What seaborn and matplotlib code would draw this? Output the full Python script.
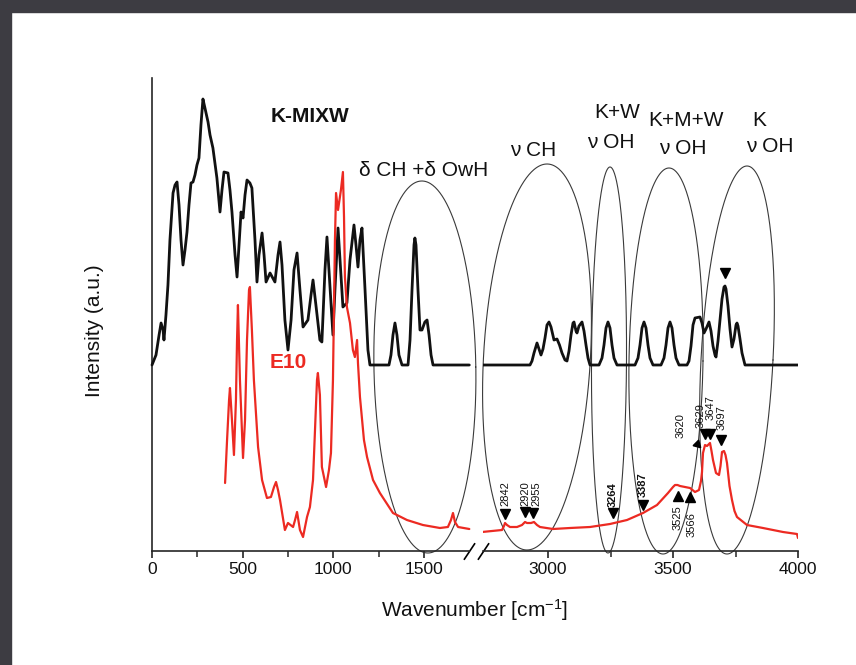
import numpy as np
import matplotlib
matplotlib.use("Agg")
import matplotlib.pyplot as plt
import seaborn as sns
from matplotlib.patches import Rectangle

# ---------------- data ----------------
# K-MIXW (black), low-wavenumber part
kmix_lo_wn = [0, 22, 39, 50, 61, 66, 77, 88, 99, 116, 127, 138, 149, 160, 171, 182, 193, 204, 215, 226,
              237, 248, 259, 270, 281, 292, 309, 320, 336, 358, 375, 386, 397, 419, 430, 441, 458, 469,
              480, 491, 502, 513, 524, 540, 551, 568, 579, 590, 607, 618, 629, 651, 678, 695, 706, 717,
              733, 750, 767, 783, 800, 816, 833, 860, 877, 888, 904, 926, 937, 954, 965, 976, 998, 1009,
              1026, 1037, 1053, 1075, 1092, 1114, 1125, 1136, 1147, 1158, 1175, 1191, 1202, 1307, 1318,
              1329, 1340, 1351, 1362, 1379, 1412, 1423, 1434, 1445, 1450, 1456, 1467, 1478, 1489, 1505,
              1517, 1528, 1539, 1550, 1750]
kmix_lo_int = [186, 196, 216, 228, 221, 211, 236, 266, 311, 358, 366, 369, 346, 311, 286, 301, 319, 346, 368, 369,
               376, 386, 393, 426, 452, 443, 429, 416, 403, 373, 339, 361, 379, 378, 361, 339, 296, 274,
               306, 339, 333, 356, 371, 368, 363, 311, 269, 296, 318, 296, 269, 278, 269, 296, 309, 286,
               231, 201, 231, 281, 298, 261, 224, 231, 256, 271, 246, 211, 209, 281, 314, 281, 216, 261,
               323, 291, 244, 248, 291, 326, 306, 284, 311, 323, 261, 201, 186, 186, 196,
               216, 228, 216, 196, 186, 186, 211, 261, 306, 313, 306, 261, 221, 221, 229,
               231, 216, 196, 186, 186]

# K-MIXW (black), high-wavenumber part
kmix_hi_wn = [2740, 2928, 2936, 2944, 2956, 2964, 2972, 2980, 2988, 2996, 3004, 3012, 3024, 3036, 3046, 3056,
              3068, 3076, 3084, 3092, 3100, 3104, 3112, 3116, 3124, 3136, 3144, 3152, 3160, 3168,
              3204, 3216, 3224, 3232, 3240, 3248, 3256, 3264, 3276,
              3348, 3360, 3368, 3376, 3384, 3392, 3400, 3408, 3420,
              3452, 3464, 3472, 3480, 3488, 3496, 3504, 3512, 3524,
              3556, 3564, 3572, 3580, 3588, 3608, 3616, 3624, 3632, 3644, 3652, 3660, 3668, 3672,
              3680, 3688, 3696, 3704, 3708, 3712, 3720, 3728, 3736, 3744, 3752, 3756, 3760, 3768,
              3776, 3788, 4000]
kmix_hi_int = [186, 186, 190, 198, 208, 202, 196, 202, 213, 226, 229, 224, 211, 212, 206, 198,
               191, 190, 200, 216, 228, 229, 220, 218, 225, 229, 220, 206, 193, 186,
               186, 193, 206, 223, 229, 223, 206, 193, 186,
               186, 193, 206, 223, 229, 223, 206, 193, 186,
               186, 193, 206, 223, 229, 223, 206, 193, 186,
               186, 190, 205, 226, 233, 234, 228, 218, 222, 229, 220, 205, 196, 194,
               210, 231, 252, 264, 265, 262, 245, 222, 204, 212, 226, 228, 225, 212,
               198, 186, 186]

# E10 (red), low-wavenumber part
e10_lo_wn = [403, 414, 425, 430, 441, 452, 463, 469, 474, 485, 502, 513, 524, 535, 540, 551, 562, 585, 607,
             634, 656, 673, 684, 695, 706, 733, 750, 778, 789, 800, 816, 833, 855, 871, 888, 899, 910,
             915, 926, 937, 960, 976, 987, 998, 1009, 1015, 1026, 1042, 1053, 1059, 1064, 1075, 1092,
             1108, 1119, 1131, 1136, 1147, 1169, 1186, 1219, 1257, 1329, 1406, 1494, 1588, 1632, 1649,
             1660, 1671, 1688, 1750]
e10_lo_int = [68, 111, 151, 163, 131, 96, 151, 211, 246, 171, 93, 131, 211, 261, 264, 221, 171, 104, 71,
              53, 54, 64, 69, 61, 51, 21, 28, 24, 31, 39, 21, 14, 34, 44, 71, 121, 171,
              178, 156, 84, 64, 81, 98, 171, 311, 358, 341, 361, 379, 334, 274, 244, 228,
              201, 194, 211, 188, 154, 111, 94, 71, 58, 38, 31, 26, 23, 24, 31,
              38, 29, 24, 22]

# E10 (red), high-wavenumber part
e10_hi_wn = [2736, 2816, 2824, 2828, 2836, 2848, 2876, 2896, 2908, 2916, 2924, 2932, 2944, 2956, 2968,
             3020, 3088, 3168, 3248, 3316, 3380, 3436, 3480, 3500, 3508, 3518, 3528, 3548, 3568, 3588,
             3604, 3612, 3616, 3620, 3628, 3636, 3648, 3654, 3660, 3672, 3684, 3690, 3696, 3704, 3710,
             3716, 3726, 3736, 3746, 3756, 3796, 3860, 3940, 3996, 4000]
e10_hi_int = [19, 21, 25, 28, 26, 24, 24, 26, 29, 28, 28, 28, 29, 26, 24,
              22, 23, 24, 27, 31, 38, 46, 58, 64, 66, 66, 65, 64, 63, 59,
              61, 70, 79, 98, 106, 105, 108, 100, 91, 78, 76, 85, 99, 100, 96,
              88, 65, 51, 40, 34, 26, 23, 19, 17, 13]

# ticks
lo_major = [0, 500, 1000, 1500]
lo_minor = [250, 750, 1250]
hi_major = [3000, 3500, 4000]
hi_minor = [3250, 3750]

# band-region ellipses: centre wn, centre int, half-width (wn), half-height (int), tilt (wn per int)
ell_lo = [(1505, 184, 281, 186, -0.089)]
ell_hi = [(2956, 194, 214, 193, 0.208),
          (3244, 191, 70, 193, 0.021),
          (3472, 190, 148, 193, 0.062),
          (3756, 191, 144, 194, 0.206)]

# peak markers (E10, high range)
pk_labels = ["2842", "2920", "2955", "3264", "3387", "3525", "3566", "3620", "3629", "3647", "3697"]
pk_mark_wn = [2828, 2908, 2941, 3259, 3381, 3520, 3568, 3596, 3628, 3646, 3692]
pk_mark_int = [37, 39, 38, 38, 46, 55, 54, 107, 117, 117, 111]
pk_marker = ["v", "v", "v", "v", "v", "^", "^", (3, 0, -135), "v", "v", "v"]
pk_text_wn = [2831, 2908, 2952, 3258, 3381, 3518, 3575, 3531, 3610, 3652, 3696]
pk_text_int = [45, 45, 45, 44, 54, 46, 39, 113, 123, 131, 121]
pk_text_va = ["bottom"] * 5 + ["top", "top"] + ["bottom"] * 4
pk_text_bold = [False, False, False, True, True, False, False, False, False, False, False]

# ---------------- style ----------------
sns.set_style("ticks")
plt.rcParams["font.family"] = ["Liberation Sans", "DejaVu Sans"]
plt.rcParams["mathtext.fontset"] = "custom"
plt.rcParams["mathtext.rm"] = "Liberation Sans"
plt.rcParams["mathtext.it"] = "Liberation Sans:italic"

BLACK = "#111111"
RED = "#ec2a22"
ELL = "#3a3a3a"
W, H = 856, 665

fig = plt.figure(figsize=(W / 100, H / 100), dpi=100)
fig.patch.set_facecolor("white")
fig.add_artist(Rectangle((0, 1 - 12 / H), 1, 12 / H, transform=fig.transFigure,
                         color="#3d3c42", zorder=0))
fig.add_artist(Rectangle((0, 0), 11 / W, 1, transform=fig.transFigure,
                         color="#3d3c42", zorder=0))

ax_l = fig.add_axes([152 / W, 114 / H, 317.3 / W, 473 / H])
ax_r = fig.add_axes([483 / W, 114 / H, 315 / W, 473 / H])
for ax in (ax_l, ax_r):
    ax.set_facecolor("none")
    ax.set_ylim(0, 473)
    ax.set_yticks([])
    ax.spines["top"].set_visible(False)
    ax.spines["right"].set_visible(False)
    ax.spines["bottom"].set_linewidth(1.2)
    ax.spines["left"].set_linewidth(1.2)
    ax.tick_params(axis="x", which="major", length=5, width=1.1, direction="out",
                   labelsize=12.5, pad=3, colors="#111111")
    ax.tick_params(axis="x", which="minor", length=4.5, width=1.1, direction="out")
ax_r.spines["left"].set_visible(False)

ax_l.set_xlim(0, 1750)
ax_r.set_xlim(2740, 4000)
ax_l.set_xticks(lo_major)
ax_l.set_xticks(lo_minor, minor=True)
ax_r.set_xticks(hi_major)
ax_r.set_xticks(hi_minor, minor=True)

# curves
sns.lineplot(x=kmix_lo_wn, y=kmix_lo_int, ax=ax_l, color=BLACK, linewidth=2.0,
             sort=False, estimator=None, clip_on=False, zorder=3)
sns.lineplot(x=e10_lo_wn, y=e10_lo_int, ax=ax_l, color=RED, linewidth=1.6,
             sort=False, estimator=None, clip_on=False, zorder=3)
sns.lineplot(x=kmix_hi_wn, y=kmix_hi_int, ax=ax_r, color=BLACK, linewidth=2.0,
             sort=False, estimator=None, zorder=3)
sns.lineplot(x=e10_hi_wn, y=e10_hi_int, ax=ax_r, color=RED, linewidth=1.6,
             sort=False, estimator=None, zorder=3)

# ellipses
t = np.linspace(0, 2 * np.pi, 400)
for ax, ells in ((ax_l, ell_lo), (ax_r, ell_hi)):
    for cx, cy, a, b, s in ells:
        yy = cy + b * np.sin(t)
        xx = cx + a * np.cos(t) + s * b * np.sin(t)
        ax.plot(xx, yy, color=ELL, lw=0.8, clip_on=False, zorder=2)

# break marks
brk = dict(marker=[(-1, -1.5), (1, 1.5)], markersize=12, linestyle="none",
           color="k", mec="k", mew=1.2, clip_on=False)
ax_l.plot([1], [0], transform=ax_l.transAxes, **brk)
ax_r.plot([0], [0], transform=ax_r.transAxes, **brk)

# peak markers and labels
for lab, mx, my, mk, tx, ty, va, bold in zip(pk_labels, pk_mark_wn, pk_mark_int, pk_marker,
                                             pk_text_wn, pk_text_int, pk_text_va, pk_text_bold):
    ax_r.plot([mx], [my], marker=mk, markersize=6.5, color="k", linestyle="none", zorder=4)
    ax_r.text(tx, ty, lab, rotation=90, ha="center", va=va, fontsize=8,
              fontweight="bold" if bold else "normal", color="#111111", zorder=4)
ax_r.plot([3708], [278], marker="v", markersize=6.5, color="k", linestyle="none", zorder=4)

# annotations
ax_l.text(871, 435, "K-MIXW", ha="center", va="center", fontsize=15, fontweight="bold", color="#111111")
ax_l.text(750, 188, "E10", ha="center", va="center", fontsize=15, fontweight="bold", color=RED)
ax_l.text(1500, 381, "δ CH +δ OwH", ha="center", va="center", fontsize=15, color="#111111")
ax_r.text(2940, 401, "ν CH", ha="center", va="center", fontsize=15, color="#111111")
ax_r.text(3276, 438, "K+W", ha="center", va="center", fontsize=15, color="#111111")
ax_r.text(3252, 409, "ν OH", ha="center", va="center", fontsize=15, color="#111111")
ax_r.text(3552, 431, "K+M+W", ha="center", va="center", fontsize=15, color="#111111")
ax_r.text(3540, 403, "ν OH", ha="center", va="center", fontsize=15, color="#111111")
ax_r.text(3844, 431, "K", ha="center", va="center", fontsize=15, color="#111111")
ax_r.text(3888, 405, "ν OH", ha="center", va="center", fontsize=15, color="#111111")

# axis labels
ax_l.set_xlabel("")
ax_r.set_xlabel("")
ax_l.set_ylabel("")
ax_r.set_ylabel("")
fig.text(95 / W, 1 - 331 / H, "Intensity (a.u.)", rotation=90, ha="center", va="center",
         fontsize=15, color="#111111")
fig.text(475 / W, 1 - 610 / H, "Wavenumber [cm$^{-1}$]", ha="center", va="center",
         fontsize=15, color="#111111")

fig.savefig("out.png", dpi=100, facecolor="white")
